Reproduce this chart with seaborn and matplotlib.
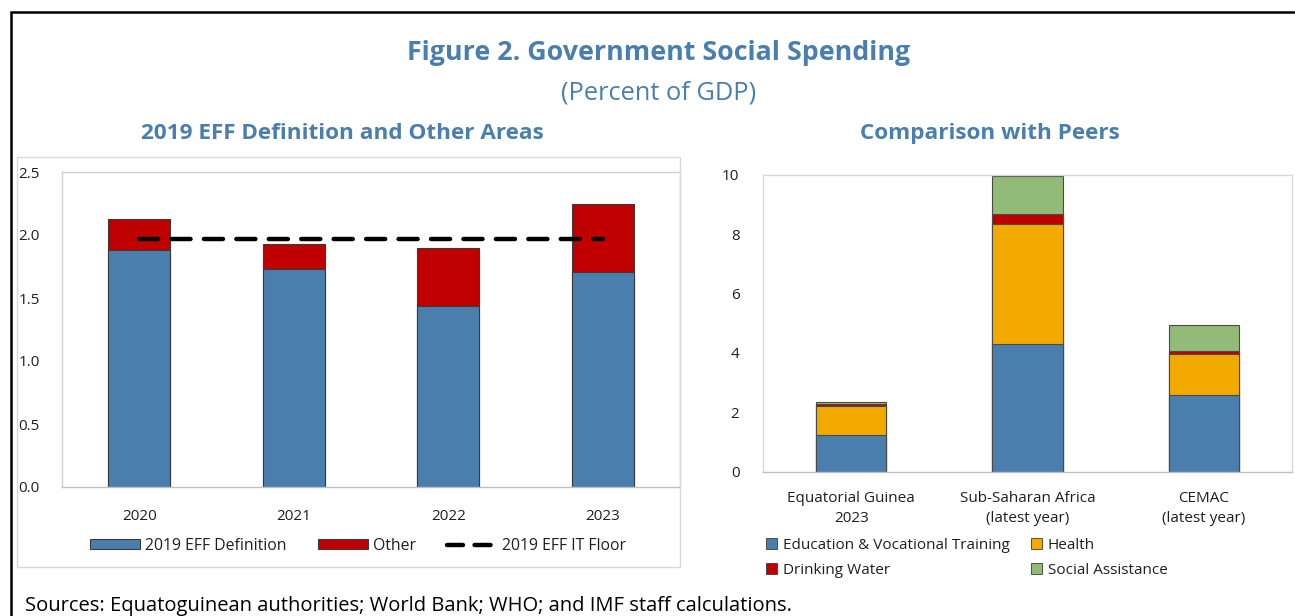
import matplotlib
matplotlib.use("Agg")
import matplotlib.pyplot as plt
import seaborn as sns
import numpy as np
import pandas as pd
from matplotlib.patches import Patch, Rectangle
from matplotlib.lines import Line2D

# ---------------- data ----------------
years = ["2020", "2021", "2022", "2023"]
eff_definition = [1.88, 1.73, 1.44, 1.71]
other = [0.25, 0.20, 0.46, 0.54]
it_floor = [1.97, 1.97, 1.97, 1.97]

peers = ["Equatorial Guinea\n2023", "Sub-Saharan Africa\n(latest year)", "CEMAC\n(latest year)"]
education = [1.24, 4.31, 2.57]
health = [0.98, 4.03, 1.40]
drinking_water = [0.07, 0.35, 0.11]
social_assistance = [0.06, 1.27, 0.86]

left_ticks = [0.0, 0.5, 1.0, 1.5, 2.0, 2.5]
right_ticks = [0, 2, 4, 6, 8, 10]

# ---------------- style ----------------
sns.set_theme(style="white")
plt.rcParams["font.family"] = ["Open Sans", "DejaVu Sans"]
TITLE_BLUE = "#4A7EAD"
BLUE = "#4A7FAD"
RED = "#C00000"
YELLOW = "#F2AA00"
GREEN = "#93BB78"
EDGE = "#3A3A3A"
TXT = "#1F1F1F"

W, H = 1295, 616
fig = plt.figure(figsize=(W / 100, H / 100), dpi=100)
fig.patch.set_facecolor("white")

def fx(px):
    return px / W

def fy(py):
    return 1 - py / H

# outer black border (left and top)
fig.add_artist(Line2D([fx(11), fx(11)], [fy(12), 0], color="black", lw=1.8, transform=fig.transFigure))
fig.add_artist(Line2D([fx(11), 1], [fy(12), fy(12)], color="black", lw=1.8, transform=fig.transFigure))

# left panel frame
fig.add_artist(Rectangle((fx(17), fy(567)), fx(680) - fx(17), fy(157) - fy(567),
                         transform=fig.transFigure, fill=False, edgecolor="#D9D9D9", lw=1))

# titles
fig.text(fx(659), fy(53), "Figure 2. Government Social Spending", ha="center", va="center",
         fontsize=19.3, fontweight="bold", color=TITLE_BLUE)
fig.text(fx(659), fy(93), "(Percent of GDP)", ha="center", va="center",
         fontsize=18.3, color=TITLE_BLUE)
fig.text(fx(342), fy(134), "2019 EFF Definition and Other Areas", ha="center", va="center",
         fontsize=16.2, fontweight="bold", color=TITLE_BLUE)
fig.text(fx(990), fy(134), "Comparison with Peers", ha="center", va="center",
         fontsize=16.2, fontweight="bold", color=TITLE_BLUE)
fig.text(fx(25), fy(606), "Sources: Equatoguinean authorities; World Bank; WHO; and IMF staff calculations.",
         ha="left", va="center", fontsize=14.5, color="black")

# ---------------- left chart ----------------
axL = fig.add_axes([fx(62), fy(487), fx(680) - fx(62), fy(172) - fy(487)])
dfL = pd.DataFrame({"year": years, "eff": eff_definition, "other": other})
dfL["total"] = dfL["eff"] + dfL["other"]
sns.barplot(data=dfL, x="year", y="total", color=RED, width=0.4, edgecolor=EDGE, linewidth=0.8,
            saturation=1, ax=axL)
sns.barplot(data=dfL, x="year", y="eff", color=BLUE, width=0.4, edgecolor=EDGE, linewidth=0.8,
            saturation=1, ax=axL)
axL.plot(np.arange(len(years)), it_floor, color="black", lw=3.2, dashes=(4.3, 3.0),
         dash_capstyle="round")
axL.set_xlim(-0.5, 3.5)
axL.set_ylim(0, 2.5)
axL.set_yticks(left_ticks)
axL.set_yticklabels([f"{t:.1f}" for t in left_ticks])
axL.set_xlabel("")
axL.set_ylabel("")
axL.tick_params(axis="y", length=0, pad=16, labelsize=11, labelcolor=TXT)
axL.tick_params(axis="x", length=0, pad=16, labelsize=11, labelcolor=TXT)
for s in axL.spines.values():
    s.set_color("#D0D0D0")
    s.set_linewidth(1)
axL.spines["bottom"].set_color("#BFBFBF")

handlesL = [Patch(facecolor=BLUE, edgecolor=EDGE, lw=0.8),
            Patch(facecolor=RED, edgecolor=EDGE, lw=0.8),
            Line2D([0], [0], color="black", lw=3.2, dashes=(3.6, 2.6), dash_capstyle="round")]
fig.legend(handlesL, ["2019 EFF Definition", "Other", "2019 EFF IT Floor"],
           loc="center", bbox_to_anchor=(fx(358), fy(546)), ncol=3, frameon=False,
           fontsize=11.3, handlelength=3.2, handleheight=0.6, handletextpad=0.3,
           columnspacing=2.0, labelcolor=TXT)

# ---------------- right chart ----------------
axR = fig.add_axes([fx(763), fy(471.5), fx(1292) - fx(763), fy(175) - fy(471.5)])
dfR = pd.DataFrame({"peer": peers, "edu": education, "health": health,
                    "water": drinking_water, "sa": social_assistance})
dfR["c1"] = dfR["edu"]
dfR["c2"] = dfR["c1"] + dfR["health"]
dfR["c3"] = dfR["c2"] + dfR["water"]
dfR["c4"] = dfR["c3"] + dfR["sa"]
for col, c in [("c4", GREEN), ("c3", RED), ("c2", YELLOW), ("c1", BLUE)]:
    sns.barplot(data=dfR, x="peer", y=col, color=c, width=0.4, edgecolor="#4A4A4A",
                linewidth=0.8, saturation=1, ax=axR)
axR.set_xlim(-0.5, 2.5)
axR.set_ylim(0, 10)
axR.set_yticks(right_ticks)
axR.set_yticklabels([str(t) for t in right_ticks])
axR.set_xlabel("")
axR.set_ylabel("")
axR.tick_params(axis="y", length=0, pad=17, labelsize=11, labelcolor=TXT)
axR.tick_params(axis="x", length=0, pad=14, labelsize=11, labelcolor=TXT)
for lbl in axR.get_xticklabels():
    lbl.set_linespacing(1.45)
for s in axR.spines.values():
    s.set_color("#D9D9D9")
    s.set_linewidth(1)
axR.spines["bottom"].set_color("#BFBFBF")

handlesR = [Patch(facecolor=BLUE, edgecolor=EDGE, lw=0.6),
            Patch(facecolor=RED, edgecolor=EDGE, lw=0.6),
            Patch(facecolor=YELLOW, edgecolor=EDGE, lw=0.6),
            Patch(facecolor=GREEN, edgecolor=EDGE, lw=0.6)]
fig.legend(handlesR, ["Education & Vocational Training", "Drinking Water", "Health", "Social Assistance"],
           loc="upper left", bbox_to_anchor=(fx(752), fy(524)), ncol=2, frameon=False,
           fontsize=11, handlelength=0.75, handleheight=0.75, handletextpad=0.35,
           columnspacing=1.4, labelspacing=0.65, labelcolor=TXT)

fig.savefig("out.png", dpi=100, facecolor="white")
